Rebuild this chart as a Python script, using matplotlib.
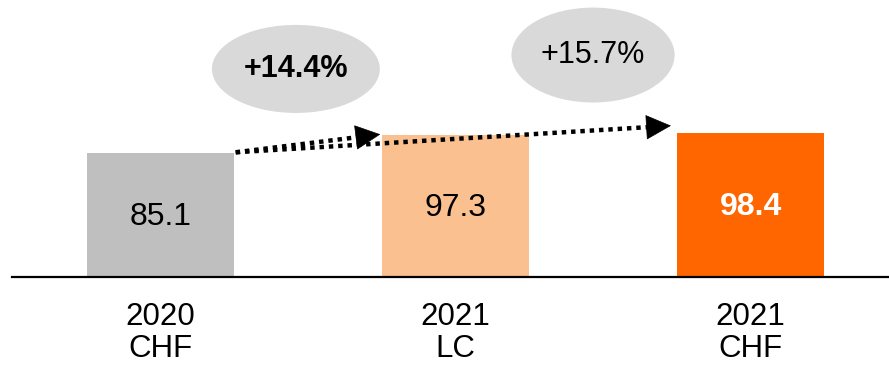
import matplotlib
matplotlib.use("Agg")
import matplotlib.pyplot as plt
from matplotlib.patches import Ellipse

# ── data ────────────────────────────────────────────────────────────────────────
categories = ["2020\nCHF", "2021\nLC", "2021\nCHF"]
values = [85.1, 97.3, 98.4]
growth_labels = ["+14.4%", "+15.7%"]
bar_colors = ["#BFBFBF", "#FAC090", "#FF6600"]

plt.rcParams["font.family"] = ["Liberation Sans", "DejaVu Sans"]
FS = 23

fig = plt.figure(figsize=(8.89, 3.65), dpi=100)
ax = fig.add_axes([12 / 889, 88 / 365, 877 / 889, 277 / 365])
ax.set_xlim(-0.503, 2.469)
ax.set_ylim(0, 189.7)

x = range(len(values))
ax.bar(x, values, width=0.5, color=bar_colors, zorder=2)

for i, v in enumerate(values):
    last = i == len(values) - 1
    ax.text(i, v / 2 - 1.5, f"{v:.1f}", ha="center", va="center", fontsize=FS,
            color="white" if last else "black",
            fontweight="bold" if last else "normal")
    ax.text(i, -38.4, categories[i], ha="center", va="center", fontsize=FS - 0.5,
            linespacing=1.12, clip_on=False)

# growth bubbles
bubbles = [((0.459, 142.5), 0.569, 60.3), ((1.466, 152.0), 0.553, 65.0)]
for (c, w, h), lab, bold in zip(bubbles, growth_labels, [True, False]):
    ax.add_patch(Ellipse(c, w, h, facecolor="#D9D9D9", edgecolor="none",
                         zorder=1))
    ax.text(c[0], c[1], lab, ha="center", va="center", fontsize=FS - 1,
            fontweight="bold" if bold else "normal")

# dotted arrows from the 2020 bar
start = (0.255, values[0] + 0.3)
ends = [(0.745, values[1] + 0.4), (1.73, values[2] + 5.2)]
for end in ends:
    slope = (end[1] - start[1]) / (end[0] - start[0])
    head = 0.055
    mid = (end[0] - head, end[1] - slope * head)
    ax.plot([start[0], mid[0] + 0.01], [start[1], mid[1] + slope * 0.01],
            color="black", lw=3.2, linestyle=(0, (1, 1.1)), zorder=3,
            solid_capstyle="butt")
    ax.annotate("", xy=end, xytext=mid,
                arrowprops=dict(arrowstyle="-|>,head_length=0.85,head_width=0.42",
                                color="black", lw=0.5, mutation_scale=20,
                                shrinkA=0, shrinkB=0), zorder=3)

for s in ["top", "left", "right"]:
    ax.spines[s].set_visible(False)
ax.spines["bottom"].set_linewidth(1.6)
ax.set_xticks([])
ax.set_yticks([])

fig.savefig("out.png", dpi=100)
